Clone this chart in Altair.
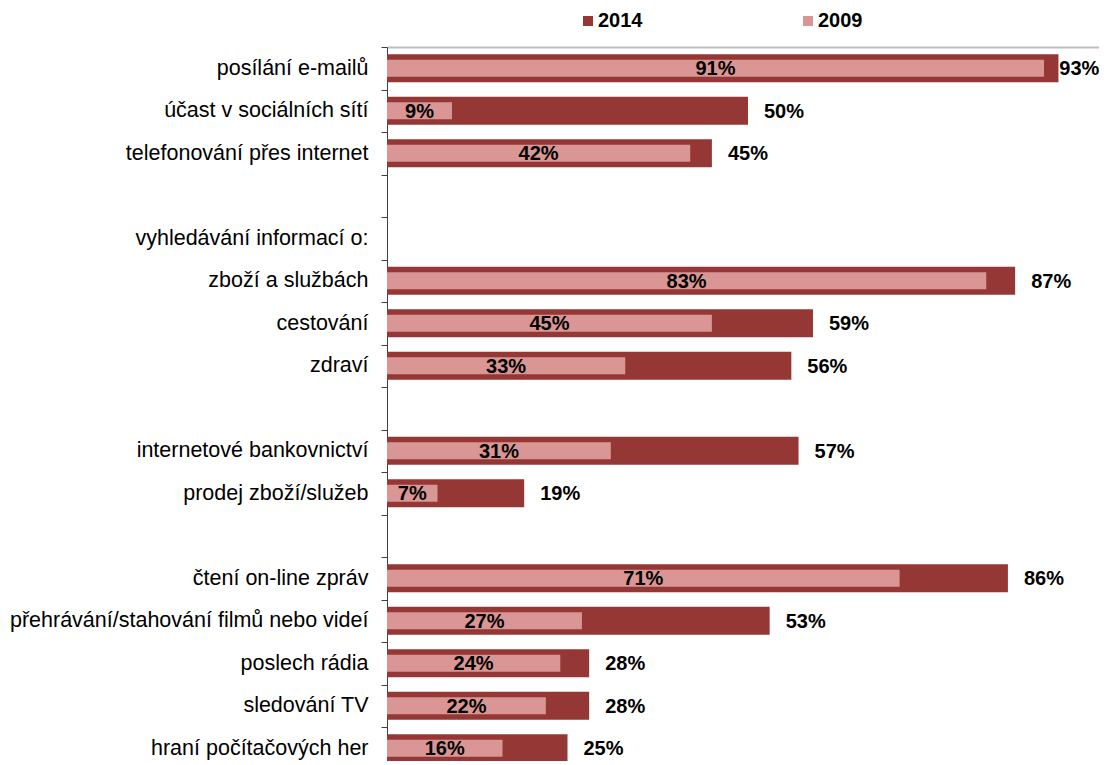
import altair as alt
import pandas as pd

categories = [
    "posílání e-mailů",
    "účast v sociálních sítí",
    "telefonování přes internet",
    "zboží a službách",
    "cestování",
    "zdraví",
    "internetové bankovnictví",
    "prodej zboží/služeb",
    "čtení on-line zpráv",
    "přehrávání/stahování filmů nebo videí",
    "poslech rádia",
    "sledování TV",
    "hraní počítačových her",
]
v2014 = [93, 50, 45, 87, 59, 56, 57, 19, 86, 53, 28, 28, 25]
v2009 = [91, 9, 42, 83, 45, 33, 31, 7, 71, 27, 24, 22, 16]

# row order on the axis, including the group header and blank separator rows
rows = [
    categories[0], categories[1], categories[2],
    " ",
    "vyhledávání informací o:",
    categories[3], categories[4], categories[5],
    "  ",
    categories[6], categories[7],
    "   ",
    categories[8], categories[9], categories[10], categories[11], categories[12],
]

series = ["2014", "2009"]
colors = ["#953735", "#D99694"]

df = pd.DataFrame({"kat": categories * 2,
                   "rok": ["2014"] * len(categories) + ["2009"] * len(categories),
                   "hodnota": v2014 + v2009})

FONT = "Liberation Sans"

yenc = alt.Y("kat:N",
             scale=alt.Scale(domain=rows, range=[0, 722.5], paddingInner=0, paddingOuter=0),
             axis=alt.Axis(title=None, labelFontSize=21.5, labelFont=FONT, labelColor="#000000",
                           labelPadding=13, tickSize=6, tickBand="extent", tickColor="#404040",
                           domainColor="#404040", labelLimit=500, grid=False))
xscale = alt.Scale(domain=[0, 100], range=[0, 722], nice=False)
xaxis = alt.Axis(orient="top", labels=False, ticks=False, title=None, grid=False,
                 domainColor="#BDBDBD", domainWidth=2)
color = alt.Color("rok:N", scale=alt.Scale(domain=series, range=colors),
                  legend=alt.Legend(title=None, orient="none", legendX=191, legendY=-36,
                                    direction="horizontal", symbolType="square", symbolSize=100,
                                    symbolStrokeWidth=0, labelFont=FONT, labelFontSize=20,
                                    labelFontWeight="bold", labelColor="#000000", labelOffset=0,
                                    columnPadding=155, padding=0))

base = alt.Chart(df)

bars14 = base.transform_filter(alt.datum.rok == "2014").mark_bar(size=28).encode(
    x=alt.X("hodnota:Q", scale=xscale, axis=xaxis), y=yenc, color=color)
bars09 = base.transform_filter(alt.datum.rok == "2009").mark_bar(size=17).encode(
    x=alt.X("hodnota:Q", scale=xscale, axis=xaxis), y=yenc, color=color)

lab14 = base.transform_filter(alt.datum.rok == "2014").transform_calculate(
    lx="min(datum.hodnota, 90.9)", txt="datum.hodnota + '%'"
).mark_text(align="left", baseline="middle", dx=16, dy=1, font=FONT, fontSize=20,
            fontWeight="bold", color="#000000").encode(
    x=alt.X("lx:Q", scale=xscale, axis=xaxis), y=yenc, text="txt:N")

lab09 = base.transform_filter(alt.datum.rok == "2009").transform_calculate(
    mid="datum.hodnota / 2", txt="datum.hodnota + '%'"
).mark_text(align="center", baseline="middle", dy=1, font=FONT, fontSize=20,
            fontWeight="bold", color="#000000").encode(
    x=alt.X("mid:Q", scale=xscale, axis=xaxis), y=yenc, text="txt:N")

chart = alt.layer(bars14, bars09, lab14, lab09).properties(
    width=712, height=714,
    padding={"left": 379, "top": 39, "right": 0, "bottom": 0},
    autosize=alt.AutoSizeParams(type="none"),
).configure_view(stroke=None)

chart.save("out.html", embed_options={"renderer": "svg", "actions": False})
